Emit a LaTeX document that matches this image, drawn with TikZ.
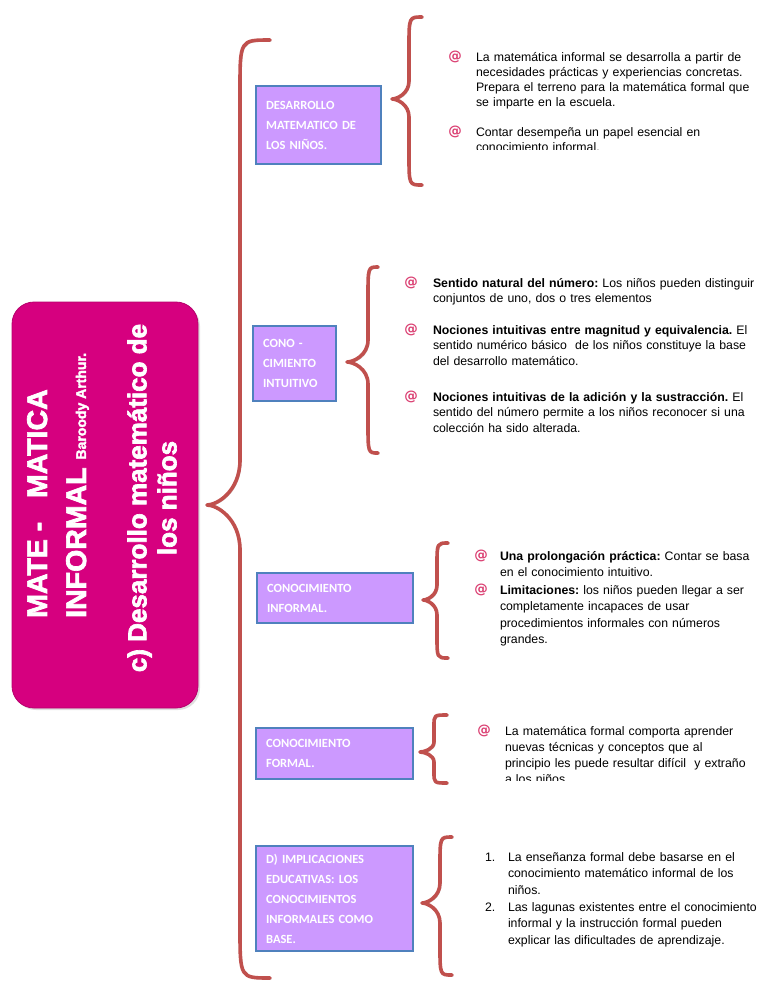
\documentclass[tikz,border=0pt]{standalone}
\usepackage{fontspec}
\setmainfont{Liberation Sans}
\newfontfamily\calibri{Carlito}
\newfontfamily\titulo[FakeBold=2.5]{Liberation Sans Bold}
\newfontfamily\dejavu{DejaVu Sans}
\usetikzlibrary{shadows}
\definecolor{rosa}{HTML}{D6007F}
\definecolor{lila}{HTML}{CC99FF}
\definecolor{azul}{HTML}{4F81BD}
\definecolor{ladrillo}{HTML}{C0504D}
\definecolor{vineta}{HTML}{DB3F72}

\begin{document}
\begin{tikzpicture}[x=1pt,y=-1pt,
  caja/.style={draw=azul, line width=2.2pt, fill=lila, text=white, anchor=north west,
    font=\calibri\bfseries\fontsize{12.5}{20}\selectfont, align=left, inner xsep=10pt, inner ysep=0pt},
  llave/.style={draw=ladrillo, line width=3.6pt, line cap=round, line join=round,
    preaction={draw=black!25, transform canvas={shift={(1.3pt,-1.3pt)}}}},
  txt/.style={font=\frenchspacing\fontsize{12.3}{15}\selectfont, align=left, text width=330pt, anchor=text, inner sep=0pt},
  vin/.style={text=vineta, font=\dejavu\bfseries\fontsize{13.5}{13.5}\selectfont, inner sep=0pt},
  tit/.style={text=white, font=\titulo\fontsize{26}{30}\selectfont, inner sep=0pt, rotate=90}]
\fill[white] (0,0) rectangle (768,994);
\useasboundingbox (0,0) rectangle (768,994);

% titulo
\draw[rosa!85!black, fill=rosa, rounded corners=22pt, line width=.8pt,
  drop shadow={opacity=.25, shadow xshift=2pt, shadow yshift=-2pt}] (12,302) rectangle (198,708);
\node[tit, anchor=west, align=left, font=\titulo\fontsize{28.5}{30}\selectfont] (tit1) at (58,618)
  {MATE -\ \ \ MATICA\\[9pt]INFORMAL {\fontsize{14}{14}\selectfont Baroody Arthur.}};
\node[tit, align=center] (tit2) at (152,498) {c) Desarrollo matemático de\\los niños};

% llaves: punta x/y, linea, extremos, curvas
\foreach \xt/\yt/\xl/\xp/\yp/\yb/\h/\m in {270/40/240/207/505/978/50/45,
  422/17/409/392/99/185/30/18, 378/267/368/347/362/453/30/22,
  448/543/437/423/600/658/22/15, 447/715/434/420/752/783/11/10,
  452/837/440/422/903/975/28/20}
  \draw[llave] (\xt,\yt) .. controls (\xl,\yt) .. (\xl,\yt+\h) -- (\xl,\yp-\m)
    .. controls (\xl,\yp-0.3*\m) and ({\xp+0.3*(\xl-\xp)},\yp) .. (\xp,\yp)
    .. controls ({\xp+0.3*(\xl-\xp)},\yp) and (\xl,\yp+0.3*\m) .. (\xl,\yp+\m)
    -- (\xl,\yb-\h) .. controls (\xl,\yb) .. (\xt,\yb);

% cajas
\node[caja, minimum width=125pt, minimum height=78pt, text width=105pt] (desarrollo) at (255,85)
  {DESARROLLO\\MATEMATICO DE\\LOS NIÑOS.};
\node[caja, minimum width=83pt, minimum height=75pt, text width=63pt] (intuitivo) at (252,325)
  {CONO -\\CIMIENTO\\INTUITIVO};
\node[caja, minimum width=156pt, minimum height=50pt, text width=136pt] (informal) at (256,572)
  {CONOCIMIENTO\\INFORMAL.};
\node[caja, minimum width=157pt, minimum height=51pt, text width=137pt] (formal) at (255,727)
  {CONOCIMIENTO\\FORMAL.};
\node[caja, minimum width=157pt, minimum height=105pt, text width=137pt] (implicaciones) at (255,845)
  {D) IMPLICACIONES\\EDUCATIVAS: LOS\\CONOCIMIENTOS\\INFORMALES COMO\\BASE.};

% vinetas
\foreach \x/\y [count=\i] in {455/57, 455/132, 411/283, 411/330, 411/397, 481/556, 481/590, 484/731}
  \node[vin] (vin\i) at (\x,\y) {@};

% textos
\begin{scope}
\clip (440,0) rectangle (768,149);
\node[txt] (des1) at (476,61) {La matemática informal se desarrolla a partir de\\
  necesidades prácticas y experiencias concretas.\\
  Prepara el terreno para la matemática formal que\\
  se imparte en la escuela.};
\node[txt] (des2) at (476,136) {Contar desempeña un papel esencial en\\conocimiento informal.};
\end{scope}

\node[txt, font=\frenchspacing\fontsize{12.3}{15.8}\selectfont] (int1) at (433,287)
  {\textbf{Sentido natural del número:} Los niños pueden distinguir\\conjuntos de uno, dos o tres elementos};
\node[txt, font=\frenchspacing\fontsize{12.3}{15.8}\selectfont] (int2) at (433,334)
  {\textbf{Nociones intuitivas entre magnitud y equivalencia.} El\\sentido numérico básico\ \ de los niños constituye la base\\del desarrollo matemático.};
\node[txt, font=\frenchspacing\fontsize{12.3}{15.8}\selectfont] (int3) at (433,401)
  {\textbf{Nociones intuitivas de la adición y la sustracción.} El\\sentido del número permite a los niños reconocer si una\\colección ha sido alterada.};

\node[txt, font=\frenchspacing\fontsize{12.3}{16.5}\selectfont] (inf1) at (500,560)
  {\textbf{Una prolongación práctica:} Contar se basa\\en el conocimiento intuitivo.};
\node[txt, font=\frenchspacing\fontsize{12.3}{16.5}\selectfont] (inf2) at (500,594)
  {\textbf{Limitaciones:} los niños pueden llegar a ser\\completamente incapaces de usar\\procedimientos informales con números\\grandes.};

\begin{scope}
\clip (470,700) rectangle (768,780);
\node[txt, font=\frenchspacing\fontsize{12.3}{16}\selectfont] (for1) at (505,735)
  {La matemática formal comporta aprender\\nuevas técnicas y conceptos que al\\principio les puede resultar difícil\ \ y extraño\\a los niños.};
\end{scope}

\node[txt] (num1) at (485,861) {1.};
\node[txt, font=\frenchspacing\fontsize{12.3}{16.7}\selectfont] (imp1) at (508,861)
  {La enseñanza formal debe basarse en el\\conocimiento matemático informal de los\\niños.};
\node[txt] (num2) at (485,911) {2.};
\node[txt, font=\frenchspacing\fontsize{12.3}{16.7}\selectfont] (imp2) at (508,911)
  {Las lagunas existentes entre el conocimiento\\informal y la instrucción formal pueden\\explicar las dificultades de aprendizaje.};
\end{tikzpicture}
\end{document}
